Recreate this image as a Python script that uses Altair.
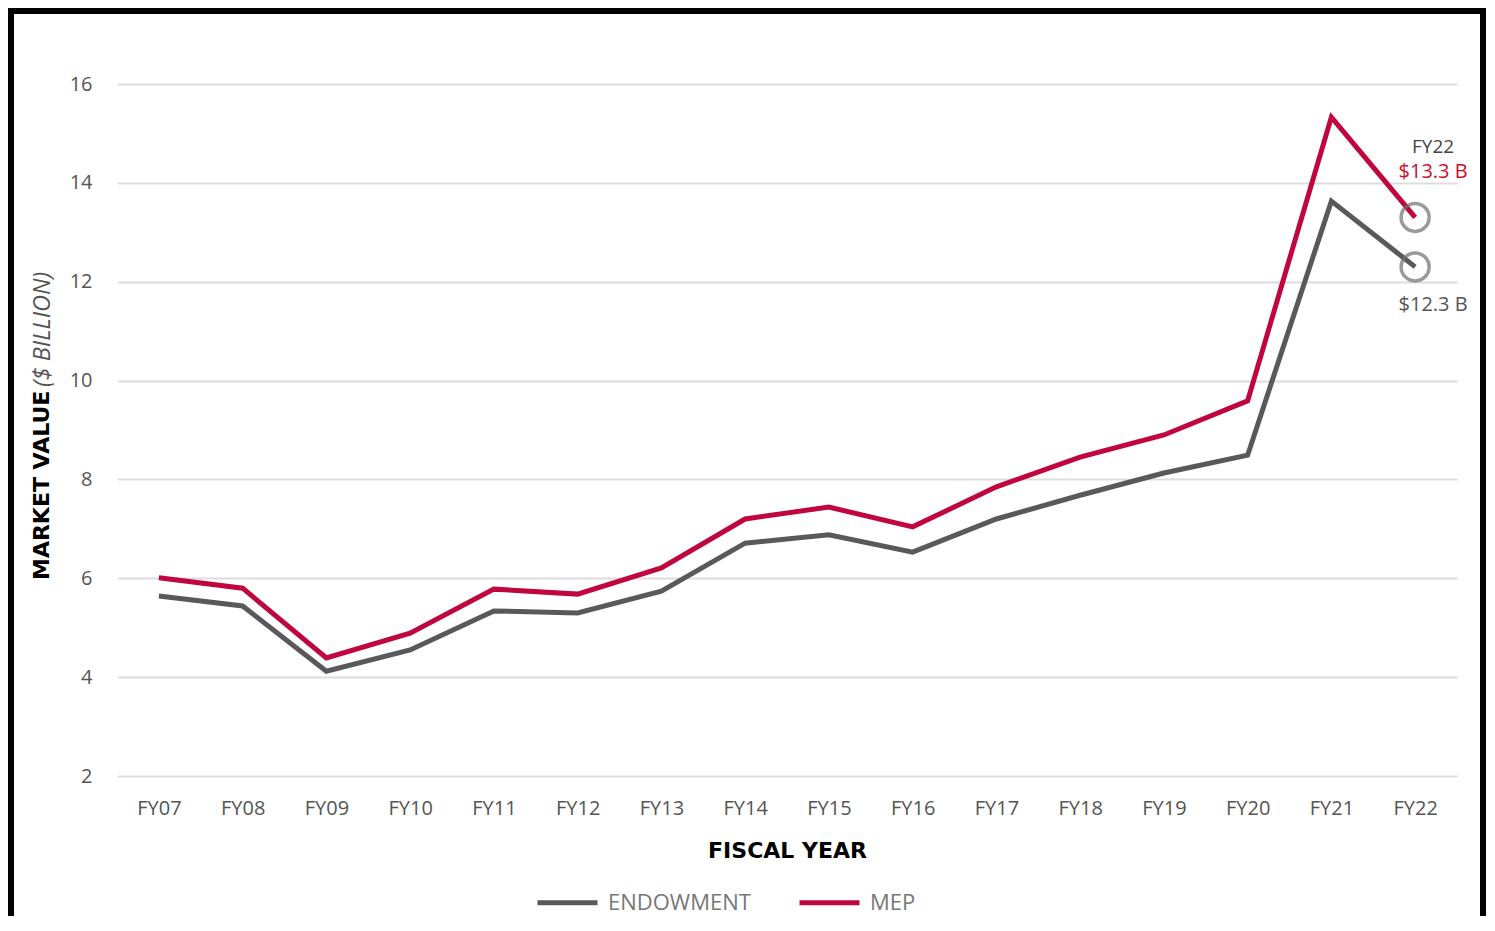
import altair as alt
import pandas as pd

years = ["FY07", "FY08", "FY09", "FY10", "FY11", "FY12", "FY13", "FY14",
         "FY15", "FY16", "FY17", "FY18", "FY19", "FY20", "FY21", "FY22"]
endowment = [5.64, 5.44, 4.12, 4.55, 5.34, 5.30, 5.74, 6.71,
             6.88, 6.53, 7.20, 7.68, 8.13, 8.49, 13.63, 12.3]
mep = [6.01, 5.80, 4.39, 4.89, 5.78, 5.68, 6.21, 7.20,
       7.44, 7.04, 7.85, 8.45, 8.90, 9.59, 15.33, 13.3]
series_names = ["ENDOWMENT", "MEP"]
series_colors = ["#58595b", "#c0063d"]
y_ticks = [2, 4, 6, 8, 10, 12, 14, 16]

rows = []
for name, vals in zip(series_names, [endowment, mep]):
    for yr, v in zip(years, vals):
        rows.append({"year": yr, "value": v, "series": name})
df = pd.DataFrame(rows)
last = df[df["year"] == years[-1]].copy()
last["label"] = last["value"].map(lambda v: f"${v:.1f} B")

W, H = 1340, 692
FONT = "Open Sans"

x_enc = alt.X("year:O", sort=years, scale=alt.Scale(type="point", padding=0.5),
              axis=alt.Axis(title="FISCAL YEAR", labelAngle=0, labelFontSize=20,
                            labelColor="#555555", labelFont=FONT, labelPadding=22,
                            ticks=False, domain=False, grid=False,
                            titleFont="DejaVu Sans", titleFontWeight="bold",
                            titleFontSize=22, titleColor="#000000", titlePadding=22))
y_enc = alt.Y("value:Q", scale=alt.Scale(domain=[2, 16], nice=False, zero=False),
              axis=alt.Axis(title=None, values=y_ticks, labelFontSize=20,
                            labelColor="#555555", labelFont=FONT, labelPadding=25,
                            ticks=False, domain=False, grid=True,
                            gridColor="#dddddd", gridWidth=2))

lines = alt.Chart(df).mark_line(strokeWidth=5).encode(
    x=x_enc, y=y_enc,
    stroke=alt.Stroke("series:N", scale=alt.Scale(domain=series_names, range=series_colors),
                      legend=alt.Legend(title=None, orient="none", legendX=418, legendY=786,
                                        direction="horizontal", symbolType="stroke",
                                        symbolSize=3600, symbolStrokeWidth=5,
                                        labelFontSize=22, labelFont=FONT,
                                        labelColor="#777777", labelOffset=8,
                                        columnPadding=38)),
    detail="series:N",
)

circles = alt.Chart(last).mark_point(shape="circle", filled=False, size=784,
                                     stroke="#707070", strokeWidth=3.5).encode(
    x=alt.X("year:O", sort=years), y="value:Q")

fy_label = alt.Chart(last[last["series"] == "MEP"]).mark_text(
    font=FONT, fontSize=19, color="#444444", dx=18, dy=-70).encode(
    x=alt.X("year:O", sort=years), y="value:Q", text="year:N")

mep_label = alt.Chart(last[last["series"] == "MEP"]).mark_text(
    font=FONT, fontSize=20, color="#c8102e", dx=18, dy=-45).encode(
    x=alt.X("year:O", sort=years), y="value:Q", text="label:N")

end_label = alt.Chart(last[last["series"] == "ENDOWMENT"]).mark_text(
    font=FONT, fontSize=20, color="#555555", dx=18, dy=38).encode(
    x=alt.X("year:O", sort=years), y="value:Q", text="label:N")

one = pd.DataFrame({"k": [0]})
ytitle_bold = alt.Chart(one).mark_text(
    text="MARKET VALUE", font="DejaVu Sans", fontWeight="bold", fontSize=22,
    color="#000000", angle=270, align="left", baseline="middle").encode(
    x=alt.value(-75), y=alt.value(496))
ytitle_it = alt.Chart(one).mark_text(
    text="($ BILLION)", font=FONT, fontStyle="italic", fontSize=23.5,
    color="#555555", angle=270, align="left", baseline="middle").encode(
    x=alt.value(-74), y=alt.value(303))

# open frame around the whole figure (left, top, right edges) as thin filled bars
frame_top = alt.Chart(one).mark_rect(color="#000000").encode(
    x=alt.value(-109), x2=alt.value(1369), y=alt.value(-76), y2=alt.value(-70))
frame_left = alt.Chart(one).mark_rect(color="#000000").encode(
    x=alt.value(-109), x2=alt.value(-103), y=alt.value(-76), y2=alt.value(832))
frame_right = alt.Chart(one).mark_rect(color="#000000").encode(
    x=alt.value(1363), x2=alt.value(1369), y=alt.value(-76), y2=alt.value(832))

chart = alt.layer(lines, circles, fy_label, mep_label, end_label,
                  ytitle_bold, ytitle_it, frame_top, frame_left, frame_right).properties(
    width=W, height=H, background="#ffffff", padding=0
).configure_view(stroke=None)

chart.save("out.html", embed_options={"renderer": "svg", "actions": False})
